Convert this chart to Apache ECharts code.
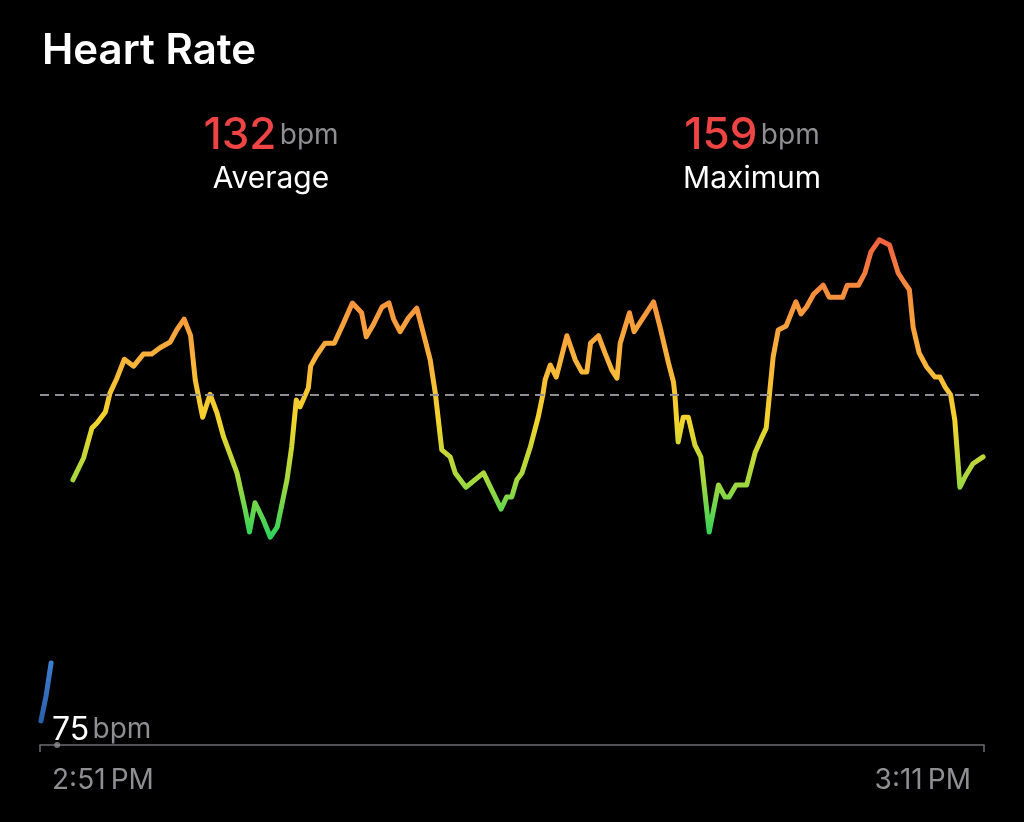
<!DOCTYPE html>
<html>
<head>
<meta charset="utf-8">
<script src="https://cdn.jsdelivr.net/npm/echarts@6/dist/echarts.min.js"></script>
<style>
  html, body { margin: 0; padding: 0; background: #000; }
  #chart { width: 1024px; height: 822px; }
</style>
</head>
<body>
<div id="chart"></div>
<script>
// ---- data (minutes after 2:51 PM, bpm) ----
var minutes = [0.34,0.57,0.75,0.86,1.04,1.14,1.29,1.45,1.65,1.86,2.04,2.22,2.44,2.58,2.74,2.88,2.98,3.14,3.30,3.45,
  3.59,3.88,4.06,4.15,4.27,4.45,4.60,4.75,4.96,5.06,5.16,5.24,5.42,5.47,5.60,5.78,5.98,6.18,6.37,6.57,
  6.67,6.82,7.01,7.16,7.26,7.40,7.58,7.76,7.90,8.05,8.16,8.30,8.48,8.59,8.82,9.20,9.38,9.58,9.70,9.81,
  9.92,10.03,10.21,10.38,10.48,10.53,10.64,10.77,11.00,11.18,11.32,11.43,11.51,11.68,11.82,11.97,12.08,12.15,12.35,12.45,
  12.87,13.01,13.19,13.30,13.33,13.40,13.51,13.62,13.76,13.89,14.07,14.27,14.41,14.50,14.65,14.88,15.06,15.20,15.30,15.37,
  15.45,15.56,15.73,15.94,16.05,16.17,16.33,16.53,16.66,16.95,17.05,17.29,17.43,17.56,17.74,17.96,18.15,18.27,18.39,18.47,
  18.60,18.76,18.94,19.05,19.16,19.28,19.37,19.48,19.61,19.76,19.98];
var bpm = [117.2,121.0,126.2,127.1,129.0,132.3,134.9,138.2,137.0,139.1,139.1,140.2,141.2,143.3,145.2,142.3,134.6,128.1,132.1,128.8,
  124.7,118.4,111.9,108.1,113.2,110.2,107.2,109.0,117.2,122.9,131.1,129.9,133.2,137.0,138.9,141.0,141.0,144.5,148.0,146.3,
  142.1,144.2,147.3,148.0,145.2,143.0,145.4,147.1,142.8,138.1,132.3,122.4,121.2,118.4,115.9,118.4,115.4,112.1,114.2,114.2,
  117.2,118.4,122.9,128.1,132.0,134.6,137.2,135.1,142.3,138.1,136.0,136.0,141.0,142.3,139.3,136.3,134.9,141.0,146.3,143.0,
  148.2,143.8,137.6,134.2,132.0,123.8,128.1,128.1,123.3,121.2,108.1,116.3,114.2,114.2,116.3,116.3,121.9,124.5,126.2,132.0,
  138.6,143.3,144.0,148.2,146.1,147.3,149.6,151.1,149.0,149.0,151.1,151.1,153.2,156.9,159.0,158.1,153.2,151.7,150.3,143.8,
  139.3,136.9,135.1,135.1,133.4,132.0,127.6,115.9,118.0,120.0,121.2];
// earlier (pre-workout) reading shown in blue
var preMinutes = [-0.35, -0.24, -0.13];
var preBpm = [75.2, 79.5, 85.3];

var averageBpm = 132;
var maximumBpm = 159;
var restLabelBpm = 75;
var timeLabels = ['2:51\u2009PM', '3:11\u2009PM'];
var timeTickValues = [0, 20];
var axisMinMinute = -0.37;
var axisMaxMinute = 20;
var yMin = 71, yMax = 175;

var mainData = minutes.map(function (m, i) { return [m, bpm[i]]; });
var preData = preMinutes.map(function (m, i) { return [m, preBpm[i]]; });

var chart = echarts.init(document.getElementById('chart'), null, { renderer: 'canvas' });
var FONT = 'Inter, "Noto Sans", sans-serif';
var GRAY = '#8e8e93';

chart.setOption({
  backgroundColor: '#000',
  animation: false,
  grid: { left: 40, right: 40, top: 148, bottom: 77 },
  xAxis: {
    type: 'value',
    min: axisMinMinute,
    max: axisMaxMinute,
    axisLine: { show: true, lineStyle: { color: '#6e6e73', width: 1.5 } },
    axisTick: { show: true, customValues: [axisMinMinute, axisMaxMinute], length: 7, lineStyle: { color: '#6e6e73', width: 1.5 } },
    axisLabel: { show: false },
    splitLine: { show: false }
  },
  yAxis: {
    type: 'value', min: yMin, max: yMax, show: false,
    splitLine: { show: false }
  },
  visualMap: {
    show: false,
    type: 'continuous',
    seriesIndex: 0,
    dimension: 1,
    min: 107,
    max: 159,
    inRange: { color: ['#2bd35c', '#a8d83e', '#f4d42c', '#f8b23c', '#f6933c', '#f0623f'] }
  },
  series: [
    {
      type: 'line',
      data: mainData,
      showSymbol: false,
      smooth: false,
      lineStyle: { width: 5, cap: 'round', join: 'round' },
      markLine: {
        silent: true,
        symbol: ['none', 'none'],
        label: { show: false },
        lineStyle: { color: GRAY, type: [9, 6], width: 2 },
        data: [{ yAxis: averageBpm }]
      },
      z: 3
    },
    {
      type: 'line',
      data: preData,
      showSymbol: false,
      lineStyle: {
        width: 5, cap: 'round',
        color: new echarts.graphic.LinearGradient(0, 1, 0, 0, [
          { offset: 0, color: '#2b5fa8' }, { offset: 1, color: '#3d7fd0' }
        ])
      },
      z: 3
    },
    {
      type: 'scatter',
      data: [[timeTickValues[0], yMin]],
      symbolSize: 6,
      itemStyle: { color: '#8e8e93' },
      z: 4
    }
  ],
  graphic: [
    { type: 'text', left: 42, top: 30, style: { text: 'Heart Rate', fill: '#fff', font: '600 42px ' + FONT } },
    { type: 'text', x: 271, y: 158, style: {
        text: '{v|' + averageBpm + '} {u|bpm}', textAlign: 'center', textVerticalAlign: 'bottom',
        rich: { v: { fill: '#ef4444', font: '500 44px ' + FONT }, u: { fill: GRAY, font: '400 28px ' + FONT } } } },
    { type: 'text', x: 271, y: 179, style: { text: 'Average', fill: '#fff', font: '400 30px ' + FONT, textAlign: 'center', textVerticalAlign: 'middle' } },
    { type: 'text', x: 752, y: 158, style: {
        text: '{v|' + maximumBpm + '} {u|bpm}', textAlign: 'center', textVerticalAlign: 'bottom',
        rich: { v: { fill: '#ef4444', font: '500 44px ' + FONT }, u: { fill: GRAY, font: '400 28px ' + FONT } } } },
    { type: 'text', x: 752, y: 179, style: { text: 'Maximum', fill: '#fff', font: '400 30px ' + FONT, textAlign: 'center', textVerticalAlign: 'middle' } },
    { type: 'text', x: 52, y: 746, style: {
        text: '{v|' + restLabelBpm + '} {u|bpm}', textAlign: 'left', textVerticalAlign: 'bottom',
        rich: { v: { fill: '#fff', font: '400 32px ' + FONT }, u: { fill: GRAY, font: '400 28px ' + FONT } } } },
    { type: 'text', x: 52, y: 781, style: { text: timeLabels[0], fill: GRAY, font: '400 28px ' + FONT, textAlign: 'left', textVerticalAlign: 'middle' } },
    { type: 'text', x: 971, y: 781, style: { text: timeLabels[1], fill: GRAY, font: '400 28px ' + FONT, textAlign: 'right', textVerticalAlign: 'middle' } }
  ]
});
</script>
</body>
</html>
